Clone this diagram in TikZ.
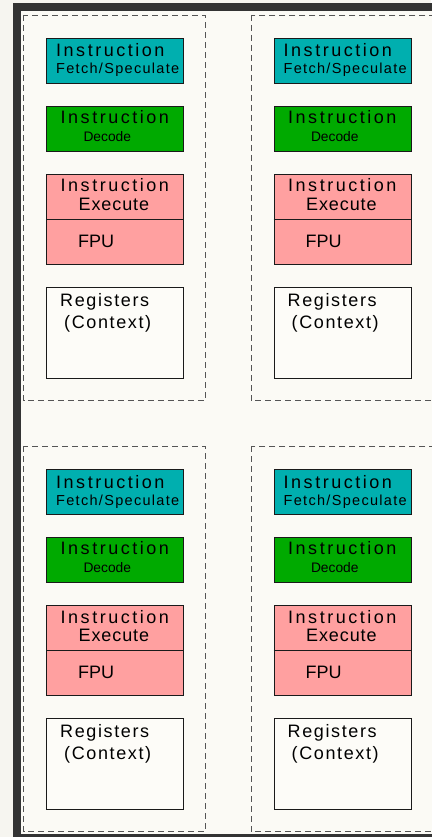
\documentclass[tikz,border=0pt]{standalone}
\usepackage{fontspec}
\setmainfont{Liberation Sans}
% letter-spaced variants of the label face
\newfontfamily\wideA[LetterSpace=14]{Liberation Sans}
\newfontfamily\wideB[LetterSpace=9]{Liberation Sans}
\newfontfamily\wideC[LetterSpace=5]{Liberation Sans}
\definecolor{pagebg}{HTML}{F6F5F0}
\definecolor{sheet}{HTML}{FBFAF5}
\definecolor{frame}{HTML}{333333}
\definecolor{fetchc}{HTML}{00AFAF}
\definecolor{decodec}{HTML}{00AA00}
\definecolor{execc}{HTML}{FFA0A0}
\definecolor{regc}{HTML}{FDFCF8}
\definecolor{edge}{HTML}{1A1A1A}
\definecolor{dashc}{HTML}{555555}
\tikzset{
  unitbox/.style={draw=edge, line width=0.9pt, rectangle, inner sep=0pt,
    minimum width=137pt, anchor=north west},
  corebox/.style={draw=dashc, line width=0.9pt, dash pattern=on 6pt off 4pt},
  lab/.style={anchor=base west, inner sep=0pt, text=black},
}
\newcommand{\bigtxt}{\fontsize{18}{20}\selectfont}
\newcommand{\midtxt}{\fontsize{14.5}{17}\selectfont}
\newcommand{\smtxt}{\fontsize{13.8}{16}\selectfont}
\begin{document}
\begin{tikzpicture}[x=1pt, y=-1pt]
  \useasboundingbox (0,0) rectangle (431,837);
  % page and dark frame
  \fill[pagebg] (0,0) rectangle (431,837);
  \fill[frame] (13.3,3.3) rectangle (445,850);
  \fill[sheet] (21,11) rectangle (445,834);
  % four identical cores
  \foreach \dx/\dy/\m in {0/0/a, 227.5/0/b, 0/431/c, 227.5/431/d}{
    \begin{scope}[shift={(\dx,\dy)}]
      \draw[corebox] (23.5,15) rectangle (205,400.7);
      % fetch unit
      \node[unitbox, fill=fetchc, minimum height=45pt] (fetch-\m) at (46,38) {};
      \node[lab] (fetchA-\m) at (56,57) {\wideA\bigtxt Instruction};
      \node[lab] (fetchB-\m) at (56,74) {\wideB\midtxt Fetch/Speculate};
      % decode unit
      \node[unitbox, fill=decodec, minimum height=45pt] (decode-\m) at (46,106) {};
      \node[lab] (decA-\m) at (60.5,123.5) {\wideA\bigtxt Instruction};
      \node[lab] (decB-\m) at (83.3,141.5) {\smtxt Decode};
      % execute unit with FPU
      \node[unitbox, fill=execc, minimum height=90.3pt] (exec-\m) at (46,174) {};
      \draw[edge, line width=0.9pt] (46,219.3) -- (183,219.3);
      \node[lab] (exA-\m) at (60.5,192) {\wideA\bigtxt Instruction};
      \node[lab] (exB-\m) at (78.5,210) {\wideC\bigtxt Execute};
      \node[lab] (fpu-\m) at (78,247.3) {\bigtxt FPU};
      % register file
      \node[unitbox, fill=regc, minimum height=90.7pt] (regs-\m) at (46,287.3) {};
      \node[lab] (regA-\m) at (60,306.7) {\wideB\bigtxt Registers};
      \node[lab] (regB-\m) at (64,328.8) {\wideB\bigtxt (Context)};
    \end{scope}
  }
\end{tikzpicture}
\end{document}
